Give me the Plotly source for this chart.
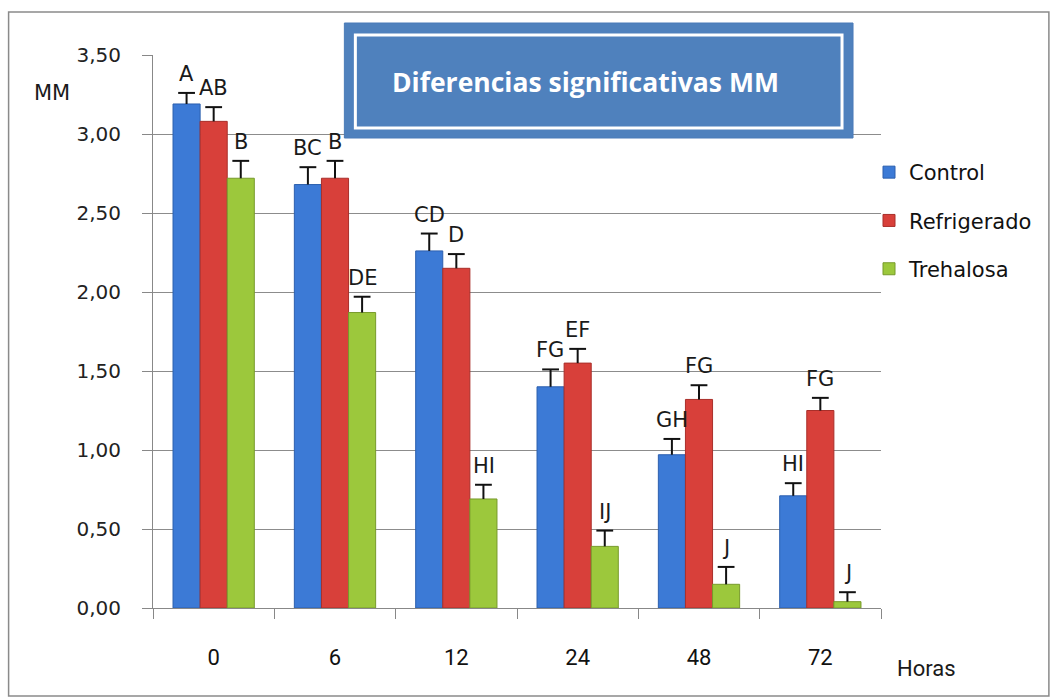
import plotly.graph_objects as go

categories = ["0", "6", "12", "24", "48", "72"]
control = [3.19, 2.68, 2.26, 1.40, 0.97, 0.71]
refrigerado = [3.08, 2.72, 2.15, 1.55, 1.32, 1.25]
trehalosa = [2.72, 1.87, 0.69, 0.39, 0.15, 0.04]
err_control = [0.07, 0.11, 0.11, 0.11, 0.10, 0.08]
err_refrigerado = [0.09, 0.11, 0.09, 0.09, 0.09, 0.08]
err_trehalosa = [0.11, 0.10, 0.09, 0.10, 0.11, 0.06]
lab_control = ["A", "BC", "CD", "FG", "GH", "HI"]
lab_refrigerado = ["AB", "B", "D", "EF", "FG", "FG"]
lab_trehalosa = ["B", "DE", "HI", "IJ", "J", "J"]
y_ticks = [0, 0.5, 1.0, 1.5, 2.0, 2.5, 3.0, 3.5]

W, H = 1050, 698
L, R, T, B = 152.5, 881, 55, 608

def px(x):
    return (x - L) / (R - L)

def py(y):
    return (B - y) / (B - T)

xpos = list(range(len(categories)))

series = [
    ("Control", control, err_control, lab_control, "#3c7ad6", "#2c5fae"),
    ("Refrigerado", refrigerado, err_refrigerado, lab_refrigerado, "#d8403a", "#a92f2a"),
    ("Trehalosa", trehalosa, err_trehalosa, lab_trehalosa, "#9cc83c", "#779a2b"),
]

fig = go.Figure()
for i, (name, vals, errs, labs, col, edge) in enumerate(series):
    fig.add_trace(go.Bar(
        x=xpos, y=vals, name=name, legendgroup=name, offsetgroup=name,
        marker=dict(color=col, line=dict(color=edge, width=1)),
        error_y=dict(type="data", array=errs, arrayminus=[0] * len(errs),
                     symmetric=False, color="#111111", thickness=2, width=0),
    ))
for i, (name, vals, errs, labs, col, edge) in enumerate(series):
    fig.add_trace(go.Scatter(
        x=xpos, y=[v + e for v, e in zip(vals, errs)], mode="markers",
        offsetgroup=name, showlegend=False, hoverinfo="skip",
        marker=dict(symbol="line-ew-open", size=12, color="#111111",
                    line=dict(color="#111111", width=2)),
    ))

bar_px = 27.2
annotations = []
for i, (name, vals, errs, labs, col, edge) in enumerate(series):
    for c, v, e, lab in zip(xpos, vals, errs, labs):
        annotations.append(dict(
            x=c, y=v + e, xref="x", yref="y", text=lab, showarrow=False,
            xshift=(i - 1) * bar_px, yanchor="bottom", yshift=5,
            font=dict(family="DejaVu Sans", size=21, color="#1a1a1a"),
        ))

annotations.append(dict(x=px(390), y=py(82), xref="paper", yref="paper",
                        text="<b>Diferencias significativas MM</b>", showarrow=False,
                        xanchor="left", yanchor="middle",
                        font=dict(family="Open Sans", size=26.5, color="white")))
annotations.append(dict(x=px(51), y=py(93), xref="paper", yref="paper",
                        text="MM", showarrow=False, xanchor="center", yanchor="middle",
                        font=dict(family="DejaVu Sans", size=21, color="#1a1a1a")))
annotations.append(dict(x=px(927), y=py(668), xref="paper", yref="paper",
                        text="Horas", showarrow=False, xanchor="center", yanchor="middle",
                        font=dict(family="Liberation Sans Narrow, Roboto, sans-serif", size=22, color="#1a1a1a")))

shapes = [
    dict(type="rect", xref="paper", yref="paper", x0=px(8), x1=px(1049), y0=py(696), y1=py(12),
         line=dict(color="#8a8a8a", width=1.5), fillcolor="rgba(0,0,0,0)", layer="below"),
    dict(type="rect", xref="paper", yref="paper", x0=px(344), x1=px(853), y0=py(138), y1=py(23),
         line=dict(color="#4a7bb8", width=1), fillcolor="#4f81bd", layer="above"),
    dict(type="rect", xref="paper", yref="paper", x0=px(355), x1=px(842), y0=py(128), y1=py(35),
         line=dict(color="white", width=3), fillcolor="rgba(0,0,0,0)", layer="above"),
]

fig.update_layout(
    width=W, height=H,
    margin=dict(l=L, r=W - R, t=T, b=H - B, pad=0),
    paper_bgcolor="white", plot_bgcolor="white",
    barmode="group", bargap=0.33, bargroupgap=0,
    scattermode="group", scattergap=0.33,
    separators=",.",
    showlegend=True,
    legend=dict(x=px(869), y=py(152), xanchor="left", yanchor="top",
                xref="paper", yref="paper", tracegroupgap=18,
                font=dict(family="DejaVu Sans", size=21, color="#111111"),
                bgcolor="rgba(0,0,0,0)"),
    annotations=annotations,
    shapes=shapes,
    xaxis=dict(type="linear", range=[-0.5, len(categories) - 0.5],
               tickmode="array", tickvals=xpos, ticktext=categories,
               showline=True, linecolor="#888888", linewidth=1,
               ticks="", ticklabelstandoff=30,
               minor=dict(tickmode="linear", tick0=-0.5, dtick=1, ticks="outside",
                          ticklen=10, tickcolor="#888888", showgrid=False),
               tickfont=dict(family="Liberation Sans Narrow, Roboto, sans-serif", size=22, color="#111111"),
               showgrid=False, zeroline=False, fixedrange=True),
    yaxis=dict(range=[0, 3.5], tickvals=y_ticks, tickformat=".2f",
               showline=True, linecolor="#888888", linewidth=1,
               ticks="outside", ticklen=10, tickcolor="#888888",
               ticklabelstandoff=17,
               tickfont=dict(family="DejaVu Sans", size=20, color="#222222"),
               showgrid=True, gridcolor="#8c8c8c", gridwidth=1, zeroline=False,
               fixedrange=True),
)

fig.write_html("out.html", config={"displayModeBar": False},
               post_script="document.body.style.margin='0';")
